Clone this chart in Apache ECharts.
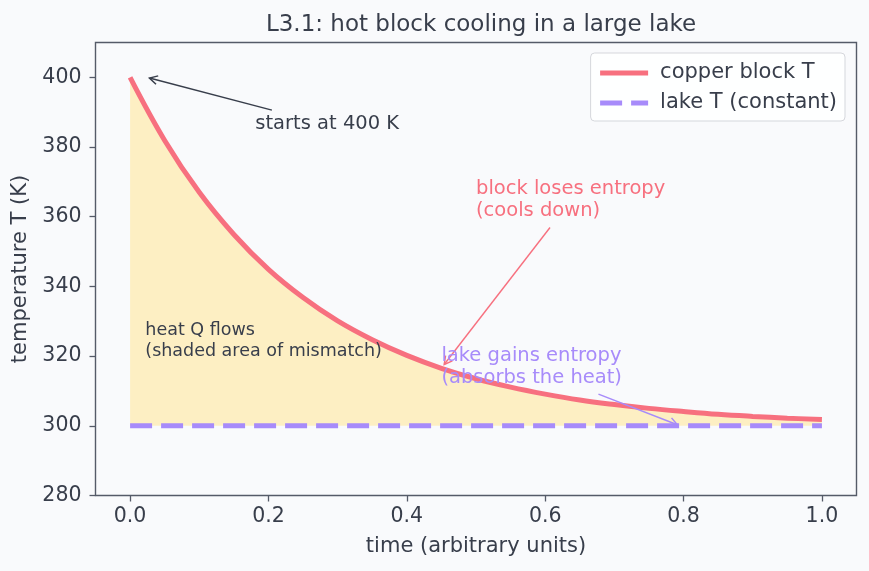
<!DOCTYPE html>
<html>
<head>
<meta charset="utf-8">
<title>L3.1 cooling</title>
<script src="https://cdn.jsdelivr.net/npm/echarts@6/dist/echarts.min.js"></script>
<style>
  html, body { margin: 0; padding: 0; background: #f9fafc; }
  #main { width: 869px; height: 571px; }
</style>
</head>
<body>
<div id="main"></div>
<script>
// values
const timePts = [0, 0.05, 0.1, 0.15, 0.2, 0.25, 0.3, 0.35, 0.4, 0.45, 0.5,
  0.55, 0.6, 0.65, 0.7, 0.75, 0.8, 0.85, 0.9, 0.95, 1.0];
const blockT = [400, 381.9, 367.0, 354.9, 344.9, 336.8, 330.1, 324.7, 320.2, 316.5, 313.5,
  311.1, 309.1, 307.4, 306.1, 305.0, 304.1, 303.3, 302.7, 302.2, 301.8];
const lakeTime = [0, 1.0];
const lakeT = [300, 300];
const xTicks = [0, 0.2, 0.4, 0.6, 0.8, 1.0];
const yTicks = [280, 300, 320, 340, 360, 380, 400];

const dark = '#383e4b';
const frame = '#555b68';
const red = '#f7707f';
const purple = '#a78bfa';
const font = 'DejaVu Sans';

const blockData = timePts.map((t, i) => [t, blockT[i]]);
const lakeData = lakeTime.map((t, i) => [t, lakeT[i]]);

const chart = echarts.init(document.getElementById('main'), null, {renderer: 'canvas'});

chart.setOption({
  backgroundColor: '#f9fafc',
  animation: false,
  textStyle: {fontFamily: font},
  title: {
    text: 'L3.1: hot block cooling in a large lake',
    left: 476,
    top: 9,
    textAlign: 'center',
    textStyle: {fontSize: 23, fontWeight: 'normal', color: dark, fontFamily: font}
  },
  grid: {
    left: 95.5, right: 12.5, top: 42.5, bottom: 75.5,
    show: true, borderColor: frame, borderWidth: 1.4, backgroundColor: 'transparent'
  },
  legend: {
    right: 24, top: 53,
    orient: 'vertical',
    itemWidth: 48, itemHeight: 5,
    itemGap: 6,
    padding: [8, 8, 6, 7],
    backgroundColor: 'rgba(255,255,255,0.85)',
    borderColor: '#d5d7dc', borderWidth: 1, borderRadius: 4,
    itemStyle: {opacity: 0},
    lineStyle: {width: 5},
    textStyle: {fontSize: 21, color: dark, fontFamily: font, lineHeight: 24, padding: [0, 0, 0, 7]},
    data: ['copper block T', 'lake T (constant)']
  },
  xAxis: {
    type: 'value', min: -0.05, max: 1.05,
    name: 'time (arbitrary units)', nameLocation: 'middle', nameGap: 41,
    nameTextStyle: {fontSize: 21, color: dark, fontFamily: font},
    axisLine: {show: false, onZero: false},
    splitLine: {show: false},
    axisTick: {show: true, inside: false, length: 6, customValues: xTicks, lineStyle: {color: frame, width: 1.3}},
    axisLabel: {
      customValues: xTicks, fontSize: 20.5, color: dark, margin: 11,
      formatter: v => v.toFixed(1)
    }
  },
  yAxis: {
    type: 'value', min: 280, max: 410,
    name: 'temperature T (K)', nameLocation: 'middle', nameGap: 60,
    nameTextStyle: {fontSize: 21, color: dark, fontFamily: font},
    axisLine: {show: false, onZero: false},
    splitLine: {show: false},
    axisTick: {show: true, inside: false, length: 6, customValues: yTicks, lineStyle: {color: frame, width: 1.3}},
    axisLabel: {customValues: yTicks, fontSize: 20.5, color: dark, margin: 14}
  },
  series: [
    {
      name: 'heat fill',
      type: 'line',
      data: blockData,
      smooth: 0.4,
      showSymbol: false, symbol: 'none',
      lineStyle: {width: 0},
      areaStyle: {color: '#fdefc3', opacity: 1, origin: 300},
      silent: true,
      z: 1
    },
    {
      name: 'lake T (constant)',
      type: 'line',
      data: lakeData,
      showSymbol: false, symbol: 'none',
      lineStyle: {color: purple, width: 5, type: [22, 9]},
      itemStyle: {color: purple},
      z: 3
    },
    {
      name: 'copper block T',
      type: 'line',
      data: blockData,
      smooth: 0.4,
      showSymbol: false, symbol: 'none',
      lineStyle: {color: red, width: 5},
      itemStyle: {color: red},
      z: 4
    }
  ]
});

// annotations placed in data coordinates
function px(p) { return chart.convertToPixel({gridIndex: 0}, p); }

function arrow(from, to, color, width) {
  const a = px(from), b = px(to);
  const ang = Math.atan2(b[1] - a[1], b[0] - a[0]);
  const L = 9, spread = 0.5;
  const h1 = [b[0] - L * Math.cos(ang - spread), b[1] - L * Math.sin(ang - spread)];
  const h2 = [b[0] - L * Math.cos(ang + spread), b[1] - L * Math.sin(ang + spread)];
  return [
    {type: 'line', z: 10, shape: {x1: a[0], y1: a[1], x2: b[0], y2: b[1]},
      style: {stroke: color, lineWidth: width}},
    {type: 'polyline', z: 10, shape: {points: [h1, b, h2]},
      style: {stroke: color, lineWidth: width, fill: null}}
  ];
}

function note(at, text, color, size, lh, valign) {
  const p = px(at);
  return {
    type: 'text', z: 10, x: p[0], y: p[1],
    style: {
      text: text, fill: color, font: size + 'px "' + font + '"',
      lineHeight: lh, align: 'left', verticalAlign: valign
    }
  };
}

const graphics = [].concat(
  arrow([0.205, 390.6], [0.028, 399.8], dark, 1.5),
  arrow([0.607, 356.9], [0.454, 317.6], red, 1.4),
  arrow([0.677, 309.1], [0.791, 300.3], purple, 1.5),
  [
    note([0.181, 386.6], 'starts at 400 K', dark, 19.5, 23, 'middle'),
    note([0.5, 371], 'block loses entropy\n(cools down)', red, 19.5, 21.5, 'top'),
    note([0.45, 323], 'lake gains entropy\n(absorbs the heat)', purple, 19.5, 21.5, 'top'),
    note([0.022, 330.4], 'heat Q flows\n(shaded area of mismatch)', dark, 17.5, 21, 'top')
  ]
);

chart.setOption({graphic: graphics});
</script>
</body>
</html>
